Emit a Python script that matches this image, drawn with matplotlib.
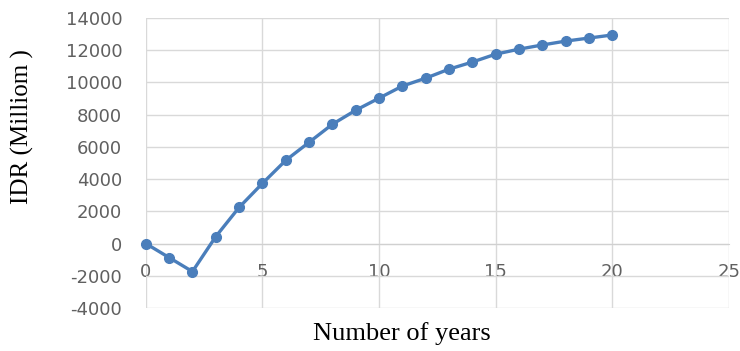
import numpy as np
import matplotlib
matplotlib.use("Agg")
import matplotlib.pyplot as plt

plt.rcParams['axes.unicode_minus'] = False

# Values
years = [0, 1, 2, 3, 4, 5, 6, 7, 8, 9, 10, 11, 12, 13, 14, 15, 16, 17, 18, 19, 20]
idr = [0, -870, -1740, 430, 2240, 3730, 5160, 6280, 7400, 8270, 9020,
       9770, 10260, 10820, 11260, 11750, 12060, 12320, 12560, 12750, 12940]
x_ticks = [0, 5, 10, 15, 20, 25]
y_ticks = [-4000, -2000, 0, 2000, 4000, 6000, 8000, 10000, 12000, 14000]

fig = plt.figure(figsize=(7.4, 3.51), dpi=100)
ax = fig.add_axes([0.197, 0.1225, 0.788, 0.8265])

ax.plot(years, idr, color='#4a7ebb', linewidth=2.4, marker='o',
        markersize=7, zorder=3, clip_on=False)

ax.set_xlim(0, 25)
ax.set_ylim(-4000, 14000)
ax.set_xticks(x_ticks)
ax.set_yticks(y_ticks)

# Excel style: x tick labels sit just under the zero line
for s in ['top', 'right', 'left']:
    ax.spines[s].set_visible(False)
ax.spines['bottom'].set_position(('data', 0))
ax.spines['bottom'].set_color('#d0d0d0')
ax.tick_params(axis='both', length=0, labelsize=13, labelcolor='#606060')
ax.tick_params(axis='x', pad=14)
ax.tick_params(axis='y', pad=17)
for lab in ax.get_xticklabels() + ax.get_yticklabels():
    lab.set_fontfamily('DejaVu Sans')

ax.grid(True, color='#d9d9d9', linewidth=1)
ax.set_axisbelow(True)

fig.text(0.543, 0.05, 'Number of years', ha='center', va='center',
         fontsize=19, family='Liberation Serif')
fig.text(0.03, 0.64, 'IDR (Milliom )', ha='center', va='center',
         rotation=90, fontsize=18, family='Liberation Serif')

fig.savefig('out.png', dpi=100)
